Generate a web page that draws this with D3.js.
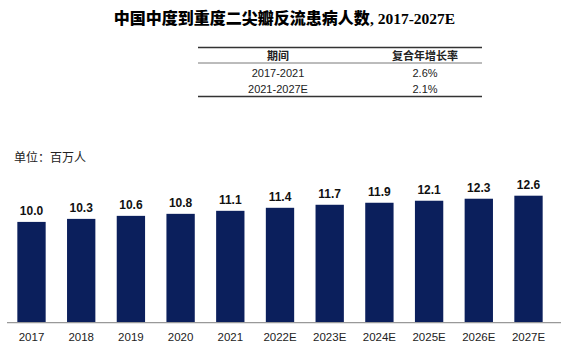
<!DOCTYPE html>
<html>
<head>
<meta charset="utf-8">
<script src="https://cdn.jsdelivr.net/npm/d3@7"></script>
<style>
  html, body { margin: 0; padding: 0; background: #fff; }
  svg { display: block; }
</style>
</head>
<body>
<svg id="chart" width="569" height="355"></svg>
<script>
const categories = ["2017", "2018", "2019", "2020", "2021", "2022E", "2023E", "2024E", "2025E", "2026E", "2027E"];
const patients = [10.0, 10.3, 10.6, 10.8, 11.1, 11.4, 11.7, 11.9, 12.1, 12.3, 12.6];
const tableHeader = ["期间", "复合年增长率"];
const tablePeriods = ["2017-2021", "2021-2027E"];
const tableCagr = ["2.6%", "2.1%"];
const titleCn = "中国中度到重度二尖瓣反流患病人数";
const titleEn = ", 2017-2027E";
const unitLabel = "单位：百万人";

const svg = d3.select("#chart");
const sans = "'Liberation Sans', Arial, 'Noto Sans CJK SC', sans-serif";
const cjk = "'Noto Sans CJK SC', 'Liberation Sans', sans-serif";

// Title
const title = svg.append("text")
  .attr("x", 284.5).attr("y", 24)
  .attr("text-anchor", "middle")
  .attr("fill", "#000");
title.append("tspan")
  .attr("font-family", cjk).attr("font-weight", 900).attr("font-size", 16)
  .text(titleCn);
title.append("tspan")
  .attr("font-family", "'Liberation Serif', 'Times New Roman', serif")
  .attr("font-weight", 700).attr("font-size", 15.5)
  .text(titleEn);

// Table
const tx0 = 198, tx1 = 482;
const colX = [278, 425];
svg.append("line").attr("x1", tx0).attr("x2", tx1).attr("y1", 47.5).attr("y2", 47.5)
  .attr("stroke", "#333").attr("stroke-width", 1.3);
svg.append("line").attr("x1", tx0).attr("x2", tx1).attr("y1", 63).attr("y2", 63)
  .attr("stroke", "#555").attr("stroke-width", 0.8);
svg.append("line").attr("x1", tx0).attr("x2", tx1).attr("y1", 96.5).attr("y2", 96.5)
  .attr("stroke", "#333").attr("stroke-width", 1.3);

svg.selectAll("text.th").data(tableHeader).enter().append("text")
  .attr("class", "th")
  .attr("x", (d, i) => colX[i]).attr("y", 59.5)
  .attr("text-anchor", "middle")
  .attr("font-family", cjk).attr("font-weight", 700).attr("font-size", 11)
  .attr("fill", "#222")
  .text(d => d);

const rowY = [76.5, 92.8];
tablePeriods.forEach((p, r) => {
  svg.append("text").attr("x", colX[0]).attr("y", rowY[r])
    .attr("text-anchor", "middle").attr("font-family", sans).attr("font-size", 11)
    .attr("fill", "#222").text(p);
  svg.append("text").attr("x", colX[1]).attr("y", rowY[r])
    .attr("text-anchor", "middle").attr("font-family", sans).attr("font-size", 11)
    .attr("fill", "#222").text(tableCagr[r]);
});

// Unit label
svg.append("text")
  .attr("x", 14).attr("y", 162)
  .attr("font-family", cjk).attr("font-size", 12)
  .attr("fill", "#222")
  .text(unitLabel);

// Bars
const baseY = 322.7;
const x = d3.scaleBand()
  .domain(categories)
  .range([6.65, 553.35])
  .paddingInner(0.43)
  .paddingOuter(0.215);
const y = d3.scaleLinear().domain([0, 12.6]).range([baseY, 195.7]);

svg.selectAll("rect.bar").data(patients).enter().append("rect")
  .attr("class", "bar")
  .attr("x", (d, i) => x(categories[i]))
  .attr("width", x.bandwidth())
  .attr("y", d => y(d))
  .attr("height", d => baseY - y(d))
  .attr("fill", "#0b1f5c");

svg.selectAll("text.val").data(patients).enter().append("text")
  .attr("class", "val")
  .attr("x", (d, i) => x(categories[i]) + x.bandwidth() / 2)
  .attr("y", d => y(d) - 6.5)
  .attr("text-anchor", "middle")
  .attr("font-family", sans).attr("font-weight", 700).attr("font-size", 12)
  .attr("fill", "#111")
  .text(d => d.toFixed(1));

// X axis
const axis = svg.append("g")
  .attr("transform", `translate(0,${baseY})`)
  .call(d3.axisBottom(x).tickSize(0).tickPadding(10));
axis.select(".domain").remove();
axis.selectAll("text")
  .attr("font-family", sans).attr("font-size", 11.5).attr("fill", "#222");
axis.append("line")
  .attr("x1", 7).attr("x2", 561).attr("y1", 0).attr("y2", 0)
  .attr("stroke", "#999").attr("stroke-width", 1.3);
</script>
</body>
</html>
